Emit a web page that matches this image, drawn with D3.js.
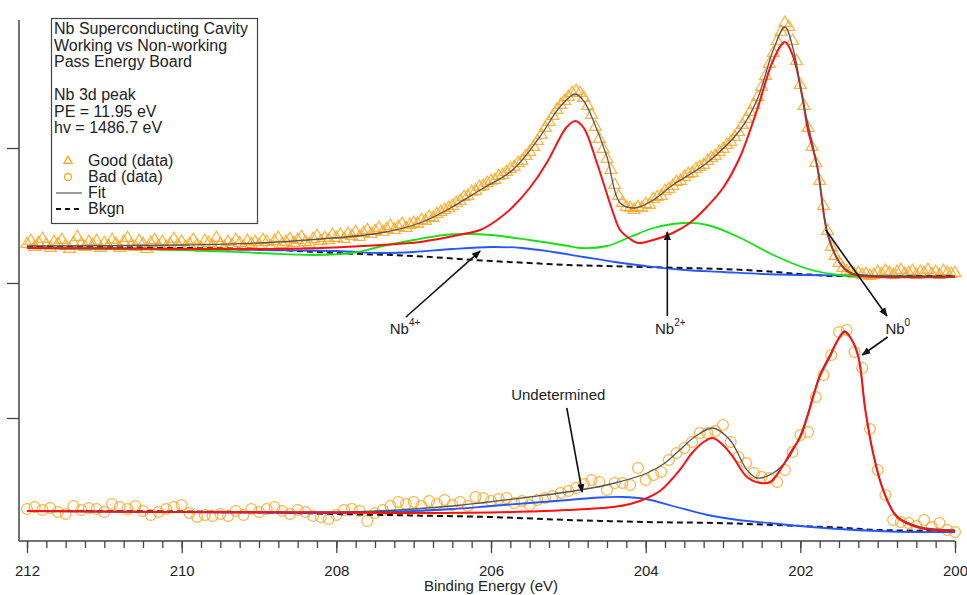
<!DOCTYPE html>
<html lang="en">
<head>
<meta charset="UTF-8">
<title>Nb 3d peak - Good vs Bad</title>
<script src="https://d3js.org/d3.v7.min.js"></script>
<style>
    html, body { margin: 0; padding: 0; background: #fff; }
    svg { display: block; font-family: "Liberation Sans", Arial, sans-serif; }
    .tick text { font-size: 15px; fill: #222; }
</style>
</head>
<body>
<svg id="chart" width="967" height="595"></svg>
<script>
// ---- measured spectra (binding energy in eV, intensity in arbitrary units) ----
// Good board: one point every 0.05 eV from 212 down to 200
var goodStart = 212, goodStep = 0.05;
var goodCounts = [
    309,312,306,310,314,308,305,311,309,313,307,304,310,316,309,306,311,308,312,305,
    310,307,313,309,305,311,315,308,306,312,309,304,310,313,307,311,306,309,314,308,
    311,306,309,313,308,305,312,310,307,315,309,306,311,308,313,310,306,312,309,311,
    308,313,311,306,312,315,309,311,314,310,313,316,311,309,314,317,312,315,313,318,
    315,318,314,319,317,321,316,320,323,319,322,325,321,324,327,323,326,329,325,328,
    330,329,333,332,336,335,339,341,343,345,347,350,352,356,357,361,362,366,367,370,
    372,373,377,378,381,384,386,390,392,397,401,406,412,418,425,431,437,443,448,452,
    456,460,462,460,455,447,438,426,414,404,394,383,368,357,350,346,345,343,346,345,
    349,348,354,356,357,362,364,367,371,372,376,379,380,384,386,388,392,395,397,401,
    404,408,411,416,421,428,434,441,448,456,466,477,489,500,512,521,530,526,512,492,
    468,447,425,406,390,372,347,322,306,297,290,285,282,281,279,280,278,279,277,278,
    281,279,282,280,278,281,283,279,280,282,278,281,280,283,279,281,278,282,280,279,
    280
];

// Bad board: one point every 0.1 eV from 212 down to 200
var badStart = 212, badStep = 0.1;
var badCounts = [
    44,46,43,45,41,39,47,43,45,44,41,49,46,44,47,42,38,41,44,46,
    48,40,36,38,37,39,37,42,38,44,41,44,46,42,39,43,41,37,36,34,
    38,43,44,42,32,40,43,47,51,49,51,47,52,49,53,48,51,47,56,
    55,52,54,55,50,52,48,53,55,57,60,62,65,69,73,71,63,70,70,68,
    85,73,78,81,93,100,105,111,120,120,122,128,111,96,90,80,76,75,71,83,
    101,118,121,156,178,198,221,223,201,185,124,83,58,33,31,30,27,33,26,30,
    23,21
];

// ---- fit components, top (good) ----
var goodBkgn = [[212,306],[209,304],[208.5,302],[208,300],[207,297],[206,292],[205.5,290],[205,288],[204.5,287],
    [204,286],[203.5,285],[203,284],[202.5,282],[202,279],[201.5,277],[201,277],[200,277]];
var goodNb4 = [[212,305],[210,304],[209,303],[208,302],[207.4,300],[207,301],[206.5,304],[206,306],[205.6,305],
    [205.2,301],[204.8,296],[204.4,291],[204,287],[203.5,283],[203,281],[202.5,279],[202,278],[201,277],[200,276]];
var goodNb2 = [[212,305],[210,303],[209,300],[208.3,298],[207.8,300],[207.4,307],[207,313],[206.6,318],[206.3,319],
    [206,318],[205.5,313],[205,307],[204.85,305],[204.5,307],[204.2,316],[203.9,325],[203.5,330],[203.2,328],
    [202.8,316],[202.35,298],[201.9,284],[201.5,278],[201,276.5],[200,276]];
var goodNb0 = [[212,305],[210,304],[209,304],[208.2,305],[207.43,308],[206.92,311],[206.36,319],[206.14,323],
    [205.92,333],[205.72,346],[205.5,365],[205.28,390],[205.11,415],[205.02,426],[204.91,432],[204.8,425],
    [204.63,390],[204.42,340],[204.33,323],[204.2,314],[204.1,310],[203.9,313],[203.65,320],[203.43,330],
    [203.21,346],[203,365],[202.78,396],[202.56,443],[202.35,493],[202.2,511],[202.1,498],[201.97,455],
    [201.91,426],[201.78,386],[201.65,320],[201.49,290],[201.36,280],[201.2,277],[200,276]];
var goodFit = [[212,307],[210,308],[209,310],[208.2,314],[207.43,320],[206.92,330],[206.57,343],[206.14,363],
    [205.72,383],[205.37,416],[205.11,446],[204.91,459],[204.8,452],[204.68,433],[204.5,396],[204.33,350],
    [204.14,345],[203.9,353],[203.65,368],[203.21,390],[202.78,423],[202.56,453],[202.35,503],[202.2,526],
    [202.08,500],[201.97,453],[201.78,386],[201.65,320],[201.49,290],[201.36,281],[201.2,278],[200,277]];

// ---- fit components, bottom (bad) ----
var badBkgn = [[212,42],[210,41.5],[208.5,40],[208,39],[207,37.5],[206,36],[205,33],[204,31],[203.1,30],
    [202,27],[201.4,25],[201,23],[200,22]];
var badUndet = [[212,42],[210,41],[208,40],[207.5,41],[207,42],[206.5,44],[206,47],[205.5,50],[205,53],
    [204.6,55.5],[204.3,56],[204,54],[203.65,47],[203.2,38],[202.8,33],[202.4,30],[202,27],[201.5,24],
    [201,22],[200.5,21],[200,21]];
var badNb0 = [[212,42],[210,41],[208,40.5],[207,40],[206,40.5],[205.5,41.5],[205,43],[204.42,46],[204.2,49],
    [203.98,55],[203.8,63],[203.56,83],[203.4,100],[203.25,111],[203.13,115],[203,108],[202.87,96],
    [202.69,76],[202.52,70],[202.39,71],[202.26,83],[202.13,100],[202,116],[201.91,136],[201.75,176],
    [201.62,196],[201.52,212],[201.43,221],[201.35,215],[201.25,196],[201.16,143],[201.06,100],
    [200.93,63],[200.75,36],[200.45,25],[200,22]];
var badFit = [[212,42],[208,41],[207.5,42],[207,44],[206.5,47],[206.14,50],[205.5,56],[204.85,63],[204.4,70],
    [203.98,80],[203.75,90],[203.56,103],[203.35,117],[203.13,125],[202.91,113],[202.69,83],[202.56,75],
    [202.35,80],[202.17,93],[202,118],[201.91,138],[201.75,178],[201.62,198],[201.52,213],[201.43,222],
    [201.35,216],[201.25,197],[201.16,144],[201.06,101],[200.93,64],[200.75,37],[200.45,26],[200,23]];

var majorTicks = [212, 210, 208, 206, 204, 202, 200];
var yTicks = [135, 270, 405];

var legendLines = ["Nb Superconducting Cavity", "Working vs Non-working", "Pass Energy Board", "",
                   "Nb 3d peak", "PE = 11.95 eV", "hv = 1486.7 eV"];

// annotations: label position and arrow (from, to) in data units
var peakLabels = [
    {base: "Nb", sup: "4+", at: [207.31, 219], from: [207.10, 236], to: [206.14, 302]},
    {base: "Nb", sup: "2+", at: [203.88, 219], from: [203.72, 237], to: [203.72, 321]},
    {base: "Nb", sup: "0",  at: [200.90, 219], from: [201.67, 323], to: [200.88, 237]}
];
var extraArrows = [
    {from: [200.87, 216], to: [201.20, 198]},
    {from: [205.02, 145], to: [204.82, 61]}
];

// ---- chart ----
var colors = {mark: "#ffa41f", nb0: "#ff1010", nb2: "#16e016", nb4: "#2457ff", fit: "#555", bkgn: "#111"};

var svg = d3.select("#chart");
var x = d3.scaleLinear().domain([212, 200]).range([27, 955]);
var y = d3.scaleLinear().domain([12, 533]).range([541, 20]);

var defs = svg.append("defs");
defs.append("marker")
    .attr("id", "arrow")
    .attr("viewBox", "0 0 10 10")
    .attr("refX", 9).attr("refY", 5)
    .attr("markerWidth", 9).attr("markerHeight", 9)
    .attr("markerUnits", "userSpaceOnUse")
    .attr("orient", "auto")
    .append("path")
    .attr("d", "M0,1 L10,5 L0,9 z")
    .attr("fill", "#111");

// axes
var xAxis = svg.append("g").attr("transform", "translate(0,541)");
xAxis.call(d3.axisBottom(x).tickValues(d3.range(212, 199.99, -0.25)).tickSize(7).tickFormat(""))
    .call(g => g.select(".domain").remove());
xAxis.append("g")
    .call(d3.axisBottom(x).tickValues(majorTicks).tickSize(12).tickPadding(12).tickFormat(d3.format("d")))
    .call(g => g.select(".domain").remove());
xAxis.selectAll("line").attr("stroke", "#444").attr("stroke-width", 1.3);
svg.append("line").attr("x1", 19).attr("x2", x(200)).attr("y1", 541).attr("y2", 541)
    .attr("stroke", "#444").attr("stroke-width", 1.5);

var yAxis = svg.append("g").attr("transform", "translate(19,0)");
yAxis.call(d3.axisLeft(y).tickValues(yTicks).tickSize(12).tickFormat(""))
    .call(g => g.select(".domain").remove());
yAxis.selectAll("line").attr("stroke", "#444").attr("stroke-width", 1.3);
svg.append("line").attr("x1", 19).attr("x2", 19).attr("y1", 20).attr("y2", 541)
    .attr("stroke", "#444").attr("stroke-width", 1.5);

svg.append("text")
    .attr("x", (x(212) + x(200)) / 2).attr("y", 591)
    .attr("text-anchor", "middle")
    .attr("font-size", 15).attr("fill", "#222")
    .text("Binding Energy (eV)");

// lines
var smooth = d3.line().x(d => x(d[0])).y(d => y(d[1])).curve(d3.curveCatmullRom.alpha(0.5));
var flat = d3.line().x(d => x(d[0])).y(d => y(d[1])).curve(d3.curveMonotoneX);

function drawLine(data, gen, color, w, dash) {
    svg.append("path")
        .datum(data)
        .attr("d", gen)
        .attr("fill", "none")
        .attr("stroke", color)
        .attr("stroke-width", w)
        .attr("stroke-dasharray", dash || null);
}

// bottom spectrum
svg.append("g").selectAll("circle")
    .data(badCounts)
    .enter().append("circle")
    .attr("cx", (d, i) => x(badStart - i * badStep))
    .attr("cy", d => y(d))
    .attr("r", 5.4)
    .attr("fill", "none")
    .attr("stroke", colors.mark)
    .attr("stroke-opacity", 0.85)
    .attr("stroke-width", 1.2);

drawLine(badBkgn, flat, colors.bkgn, 2, "6,4");
drawLine(badUndet, smooth, colors.nb4, 1.8);
drawLine(badFit, smooth, colors.fit, 1.3);
drawLine(badNb0, smooth, colors.nb0, 2);

// top spectrum
var tri = d3.symbol().type(d3.symbolTriangle).size(62);
svg.append("g").selectAll("path")
    .data(goodCounts)
    .enter().append("path")
    .attr("d", tri)
    .attr("transform", (d, i) => "translate(" + x(goodStart - i * goodStep) + "," + y(d) + ")")
    .attr("fill", "none")
    .attr("stroke", colors.mark)
    .attr("stroke-opacity", 0.85)
    .attr("stroke-width", 1.2);

drawLine(goodBkgn, flat, colors.bkgn, 2, "6,4");
drawLine(goodNb4, smooth, colors.nb4, 1.8);
drawLine(goodNb2, smooth, colors.nb2, 1.8);
drawLine(goodNb0, smooth, colors.nb0, 2);
drawLine(goodFit, smooth, colors.fit, 1.3);

// annotations
var ann = svg.append("g").attr("font-size", 15).attr("fill", "#222");
peakLabels.forEach(function(p) {
    var t = ann.append("text").attr("x", x(p.at[0])).attr("y", y(p.at[1]));
    t.append("tspan").text(p.base);
    t.append("tspan").attr("dy", -8).attr("font-size", 10).text(p.sup);
    ann.append("line")
        .attr("x1", x(p.from[0])).attr("y1", y(p.from[1]))
        .attr("x2", x(p.to[0])).attr("y2", y(p.to[1]))
        .attr("stroke", "#111").attr("stroke-width", 1.6)
        .attr("marker-end", "url(#arrow)");
});
extraArrows.forEach(function(a) {
    ann.append("line")
        .attr("x1", x(a.from[0])).attr("y1", y(a.from[1]))
        .attr("x2", x(a.to[0])).attr("y2", y(a.to[1]))
        .attr("stroke", "#111").attr("stroke-width", 1.6)
        .attr("marker-end", "url(#arrow)");
});
ann.append("text")
    .attr("x", x(205.13)).attr("y", y(153))
    .attr("text-anchor", "middle")
    .text("Undetermined");

// legend box
var leg = svg.append("g");
leg.append("rect")
    .attr("x", 51.5).attr("y", 18.5).attr("width", 206).attr("height", 205)
    .attr("fill", "#fff").attr("stroke", "#444").attr("stroke-width", 1.2);
var lt = leg.append("g").attr("font-size", 16).attr("fill", "#222");
legendLines.forEach(function(s, i) {
    lt.append("text").attr("x", 54).attr("y", 34 + i * 16.5).text(s);
});
var keys = [
    {label: "Good (data)", kind: "tri"},
    {label: "Bad (data)", kind: "circ"},
    {label: "Fit", kind: "fit"},
    {label: "Bkgn", kind: "bkgn"}
];
keys.forEach(function(k, i) {
    var yy = 166 + i * 16;
    lt.append("text").attr("x", 88).attr("y", yy).text(k.label);
    var cy = yy - 5;
    if (k.kind === "tri") {
        leg.append("path").attr("d", d3.symbol().type(d3.symbolTriangle).size(30))
            .attr("transform", "translate(68," + cy + ")")
            .attr("fill", "none").attr("stroke", colors.mark).attr("stroke-width", 1.3);
    } else if (k.kind === "circ") {
        leg.append("circle").attr("cx", 68).attr("cy", cy).attr("r", 3.5)
            .attr("fill", "none").attr("stroke", colors.mark).attr("stroke-width", 1.3);
    } else {
        leg.append("line").attr("x1", 56).attr("x2", 82).attr("y1", cy).attr("y2", cy)
            .attr("stroke", k.kind === "fit" ? "#666" : colors.bkgn)
            .attr("stroke-width", k.kind === "fit" ? 1.3 : 2)
            .attr("stroke-dasharray", k.kind === "fit" ? null : "5,4");
    }
});
</script>
</body>
</html>
